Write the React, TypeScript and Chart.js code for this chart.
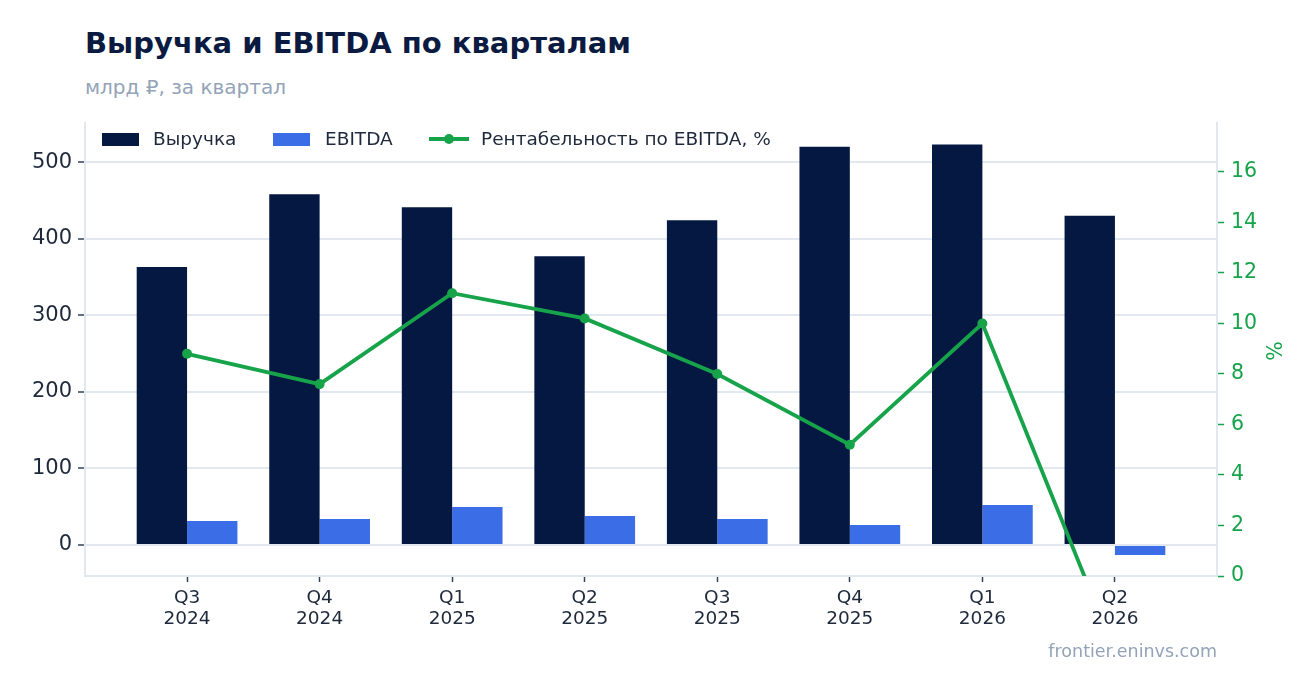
import React, { useEffect, useRef } from 'react';
import { Chart, registerables } from 'chart.js';

Chart.register(...registerables);

// данные по кварталам
const quarters = ['Q3', 'Q4', 'Q1', 'Q2', 'Q3', 'Q4', 'Q1', 'Q2'];
const years = ['2024', '2024', '2025', '2025', '2025', '2025', '2026', '2026'];
const revenue = [363, 458, 441, 377, 424, 520, 523, 430];
const ebitda = [31.3, 34, 49.6, 37.9, 34, 26.1, 52.2, -13];
const margin = [8.8, 7.6, 11.2, 10.2, 8.0, 5.2, 10.0, -3.0];
const leftTicks = [0, 100, 200, 300, 400, 500];
const rightTicks = [0, 2, 4, 6, 8, 10, 12, 14, 16];

const NAVY = '#051842';
const BLUE = '#3b6ee6';
const GREEN = '#16a34a';
const GRID = '#e2e8f0';
const TEXT = '#1e293b';
const MUTED = '#94a3b8';
const FONT = 'DejaVu Sans';

const RevenueChart = () => {
    const chartRef = useRef<HTMLCanvasElement | null>(null);

    useEffect(() => {
        if (!chartRef.current) return;
        const ctx = chartRef.current.getContext('2d');
        if (!ctx) return;

        const myChart = new Chart(ctx, {
            type: 'bar',
            data: {
                datasets: [
                    {
                        type: 'line',
                        label: 'Рентабельность по EBITDA, %',
                        data: margin.map((v, i) => ({ x: i, y: v })),
                        yAxisID: 'y1',
                        borderColor: GREEN,
                        backgroundColor: GREEN,
                        borderWidth: 3.8,
                        pointRadius: 5,
                        pointBorderWidth: 0,
                        pointBackgroundColor: GREEN,
                        tension: 0,
                        clip: 0,
                        order: 0,
                    } as any,
                    {
                        label: 'Выручка',
                        data: revenue.map((v, i) => ({ x: i, y: v })),
                        backgroundColor: NAVY,
                        yAxisID: 'y',
                        categoryPercentage: 0.76,
                        barPercentage: 1,
                        order: 1,
                    },
                    {
                        label: 'EBITDA',
                        data: ebitda.map((v, i) => ({ x: i, y: v })),
                        backgroundColor: BLUE,
                        yAxisID: 'y',
                        categoryPercentage: 0.76,
                        barPercentage: 1,
                        order: 1,
                    },
                ],
            },
            options: {
                responsive: true,
                maintainAspectRatio: false,
                animation: false,
                layout: { padding: { top: 23, left: 0, right: 0, bottom: 0 } },
                plugins: {
                    legend: { display: false },
                    tooltip: { enabled: false },
                },
                scales: {
                    x: {
                        type: 'linear',
                        offset: false,
                        min: -0.77,
                        max: 7.77,
                        afterBuildTicks: (scale: any) => {
                            scale.ticks = quarters.map((_, i) => ({ value: i }));
                        },
                        afterFit: (scale: any) => {
                            scale.height = 84;
                        },
                        ticks: {
                            autoSkip: false,
                            maxRotation: 0,
                            padding: 6,
                            color: TEXT,
                            font: { family: FONT, size: 18.5, lineHeight: 1.13 },
                            callback: (v: any) => [quarters[v], years[v]],
                        },
                        grid: {
                            offset: false,
                            drawOnChartArea: false,
                            drawTicks: true,
                            tickLength: 6,
                            tickWidth: 1.5,
                            tickColor: '#334155',
                        },
                        border: { color: GRID, width: 2 },
                    },
                    y: {
                        position: 'left',
                        min: -40.5,
                        max: 551,
                        afterBuildTicks: (scale: any) => {
                            scale.ticks = leftTicks.map((v) => ({ value: v }));
                        },
                        afterFit: (scale: any) => {
                            scale.width = 85;
                        },
                        ticks: {
                            padding: 6,
                            color: TEXT,
                            font: { family: FONT, size: 21 },
                        },
                        grid: {
                            color: GRID,
                            lineWidth: 2,
                            tickLength: 7,
                            tickWidth: 1.5,
                            tickColor: '#334155',
                        },
                        border: { color: GRID, width: 2 },
                    },
                    y1: {
                        position: 'right',
                        min: 0,
                        max: 17.94,
                        afterBuildTicks: (scale: any) => {
                            scale.ticks = rightTicks.map((v) => ({ value: v }));
                        },
                        afterFit: (scale: any) => {
                            scale.width = 99;
                        },
                        ticks: {
                            padding: 7,
                            color: GREEN,
                            font: { family: FONT, size: 20.5 },
                        },
                        grid: {
                            drawOnChartArea: false,
                            tickLength: 7,
                            tickWidth: 1.5,
                            tickColor: GREEN,
                        },
                        border: { color: GRID, width: 2 },
                    },
                },
            },
        });

        return () => {
            myChart.destroy();
        };
    }, []);

    return <canvas ref={chartRef}></canvas>;
};

const legendText: React.CSSProperties = { fontSize: 18.5, color: TEXT, fontFamily: FONT, whiteSpace: 'nowrap', lineHeight: 1 };

export default function App() {
    return (
        <div style={{ position: 'absolute', left: 0, top: 0, width: 1316, height: 693, background: '#fff', fontFamily: FONT, overflow: 'hidden' }}>
            <div style={{ position: 'absolute', left: 85, top: 28.8, fontSize: 29, fontWeight: 'bold', color: '#0b1a40', lineHeight: 1, whiteSpace: 'nowrap' }}>
                Выручка и EBITDA по кварталам
            </div>
            <div style={{ position: 'absolute', left: 85, top: 77, fontSize: 20, color: MUTED, lineHeight: 1, whiteSpace: 'nowrap' }}>
                млрд ₽, за квартал
            </div>
            <div style={{ position: 'absolute', left: 0, top: 100, width: 1316, height: 560 }}>
                <RevenueChart />
            </div>
            {/* легенда внутри области графика */}
            <div style={{ position: 'absolute', left: 102, top: 129, height: 20, display: 'flex', alignItems: 'center' }}>
                <span style={{ width: 37, height: 13, background: NAVY, display: 'inline-block', marginRight: 14 }}></span>
                <span style={legendText}>Выручка</span>
            </div>
            <div style={{ position: 'absolute', left: 273, top: 129, height: 20, display: 'flex', alignItems: 'center' }}>
                <span style={{ width: 37, height: 13, background: BLUE, display: 'inline-block', marginRight: 15 }}></span>
                <span style={legendText}>EBITDA</span>
            </div>
            <div style={{ position: 'absolute', left: 429, top: 129, height: 20, display: 'flex', alignItems: 'center' }}>
                <span style={{ position: 'relative', width: 40, height: 20, display: 'inline-block', marginRight: 12 }}>
                    <span style={{ position: 'absolute', left: 0, top: 8.1, width: 40, height: 3.8, background: GREEN }}></span>
                    <span style={{ position: 'absolute', left: 15, top: 5, width: 10, height: 10, borderRadius: 5, background: GREEN }}></span>
                </span>
                <span style={legendText}>Рентабельность по EBITDA, %</span>
            </div>
            <div style={{ position: 'absolute', left: 1262, top: 340, width: 26, height: 22, display: 'flex', alignItems: 'center', justifyContent: 'center', transform: 'rotate(-90deg)', color: GREEN, fontSize: 20.5, lineHeight: 1 }}>
                %
            </div>
            <div style={{ position: 'absolute', right: 1316 - 1217, top: 643.2, fontSize: 17.5, color: MUTED, lineHeight: 1, whiteSpace: 'nowrap' }}>
                frontier.eninvs.com
            </div>
        </div>
    );
}
